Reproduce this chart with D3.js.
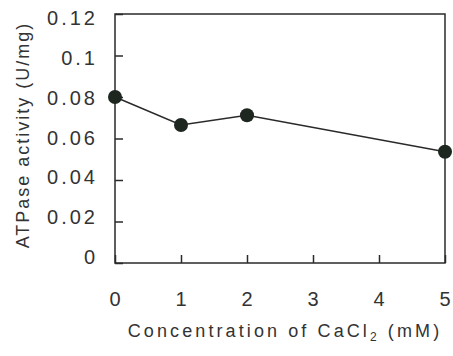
<!DOCTYPE html>
<html><head><meta charset="utf-8">
<script src="https://cdn.jsdelivr.net/npm/d3@7"></script>
<style>body{margin:0;background:#fff}svg{display:block}</style>
</head><body>
<svg id="c" width="453" height="356"></svg>
<script>
const concentrations = [0, 1, 2, 5];
const activity = [0.080, 0.0665, 0.0712, 0.0536];
const xTicks = [0, 1, 2, 3, 4, 5];
const yTicks = [0, 0.02, 0.04, 0.06, 0.08, 0.1, 0.12];
const yTickLabels = ["0", "0.02", "0.04", "0.06", "0.08", "0.1", "0.12"];

const svg = d3.select("#c");
const m = {l:115, r:445, t:14, b:263};
const x = d3.scaleLinear().domain([0,5]).range([m.l, m.r]);
const y = d3.scaleLinear().domain([0,0.12]).range([m.b, m.t]);
const yLab = d3.scaleLinear().domain([0,0.12]).range([257, 18]);
const ink = "#2a2a2a", txt = "#333";
const font = "'Liberation Sans', Arial, sans-serif";

// frame
svg.append("rect").attr("x",m.l).attr("y",m.t).attr("width",m.r-m.l).attr("height",m.b-m.t)
  .attr("fill","none").attr("stroke",ink).attr("stroke-width",1.5);

// y axis ticks (inward)
const ya = svg.append("g").attr("transform",`translate(${m.l},0)`)
  .call(d3.axisRight(y).tickValues(yTicks).tickSize(8).tickFormat(""));
ya.select(".domain").remove();
ya.selectAll("line").attr("stroke",ink).attr("stroke-width",1.5);
svg.append("g").selectAll("text").data(yTicks).join("text")
  .attr("x",98).attr("y",d=>yLab(d)).attr("dy","0.35em").attr("text-anchor","end")
  .attr("font-family",font).attr("font-size",20).attr("letter-spacing",3).attr("fill",txt)
  .text((d,i)=>yTickLabels[i]);

// x axis ticks (inward)
const xa = svg.append("g").attr("transform",`translate(0,${m.b})`)
  .call(d3.axisTop(x).tickValues(xTicks).tickSize(8).tickFormat(""));
xa.select(".domain").remove();
xa.selectAll("line").attr("stroke",ink).attr("stroke-width",1.5);
svg.append("g").selectAll("text").data(xTicks).join("text")
  .attr("x",d=>x(d)).attr("y",299).attr("dy","0.35em").attr("text-anchor","middle")
  .attr("font-family",font).attr("font-size",20).attr("fill",txt)
  .text(d=>d);

// line
const data = concentrations.map((c,i)=>({c, v:activity[i]}));
svg.append("path").datum(data)
  .attr("d", d3.line().x(d=>x(d.c)).y(d=>y(d.v)))
  .attr("fill","none").attr("stroke",ink).attr("stroke-width",1.5);
svg.append("g").selectAll("circle").data(data).join("circle")
  .attr("cx",d=>x(d.c)).attr("cy",d=>y(d.v)).attr("r",7).attr("fill","#1e2620");

// titles
const xt = svg.append("text").attr("x",285).attr("y",331).attr("dy","0.35em").attr("text-anchor","middle")
  .attr("font-family",font).attr("font-size",18).attr("fill",txt).attr("letter-spacing",3.1);
xt.append("tspan").text("Concentration of CaCl");
xt.append("tspan").attr("font-size",12).attr("dy",4).text("2");
xt.append("tspan").attr("dy",-4).text(" (mM)");

svg.append("text").attr("transform","translate(23,135) rotate(-90)").attr("dy","0.35em")
  .attr("text-anchor","middle").attr("font-family",font).attr("font-size",18).attr("fill",txt)
  .attr("letter-spacing",2).text("ATPase activity (U/mg)");
</script>
</body></html>
